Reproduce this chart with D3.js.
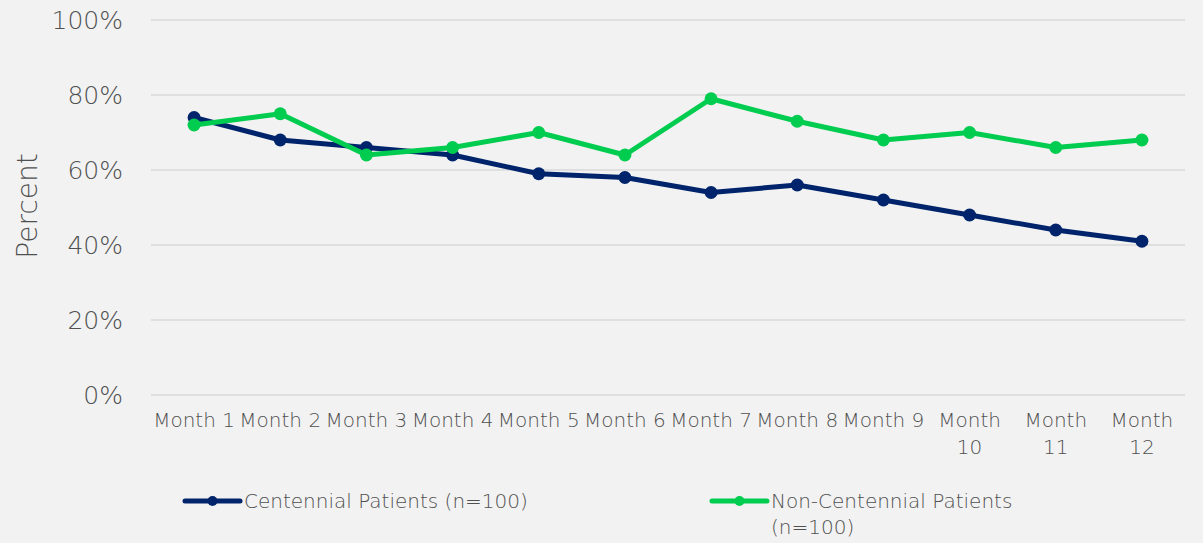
<!DOCTYPE html>
<html>
<head>
<meta charset="utf-8">
<script src="https://cdn.jsdelivr.net/npm/d3@7"></script>
<style>
  body { margin: 0; background: #f2f2f2; }
  svg { display: block; }
  text { font-family: "Century Gothic", "DejaVu Sans", sans-serif; fill: #505050; font-weight: 300; }
</style>
</head>
<body>
<svg id="chart" width="1203" height="543"></svg>
<script>
var months = ["Month 1", "Month 2", "Month 3", "Month 4", "Month 5", "Month 6",
              "Month 7", "Month 8", "Month 9", "Month 10", "Month 11", "Month 12"];
var centennial = [74, 68, 66, 64, 59, 58, 54, 56, 52, 48, 44, 41];
var nonCentennial = [72, 75, 64, 66, 70, 64, 79, 73, 68, 70, 66, 68];
var yTicks = [0, 20, 40, 60, 80, 100];
var seriesNames = ["Centennial Patients (n=100)", "Non-Centennial Patients (n=100)"];

var colors = ["#00246b", "#00cc50"];

var svg = d3.select("#chart");

var x = d3.scaleBand().domain(months).range([151, 1185]);
var y = d3.scaleLinear().domain([0, 100]).range([395, 20]);

// gridlines
svg.append("g")
  .selectAll("line")
  .data(yTicks)
  .enter().append("line")
  .attr("x1", 151)
  .attr("x2", 1185)
  .attr("y1", function(d) { return y(d); })
  .attr("y2", function(d) { return y(d); })
  .style("stroke", "#d9d9d9")
  .style("stroke-width", "1.5px");

// y labels
svg.append("g")
  .selectAll("text")
  .data(yTicks)
  .enter().append("text")
  .attr("x", 123)
  .attr("y", function(d) { return y(d); })
  .attr("dy", "0.35em")
  .attr("text-anchor", "end")
  .attr("font-size", "25px")
  .text(function(d) { return d + "%"; });

svg.append("text")
  .attr("transform", "translate(37,206) rotate(-90)")
  .attr("text-anchor", "middle")
  .attr("font-size", "28px")
  .text("Percent");

// x labels
var xl = svg.append("g")
  .selectAll("text")
  .data(months)
  .enter().append("text")
  .attr("x", function(d) { return x(d) + x.bandwidth() / 2; })
  .attr("y", 427)
  .attr("text-anchor", "middle")
  .attr("font-size", "20px");

xl.each(function(d) {
  var t = d3.select(this);
  if (d.length > 7) {
    var parts = d.split(" ");
    t.append("tspan").attr("x", x(d) + x.bandwidth() / 2).text(parts[0]);
    t.append("tspan").attr("x", x(d) + x.bandwidth() / 2).attr("dy", 27).text(parts[1]);
  } else {
    t.text(d);
  }
});

var line = d3.line()
  .x(function(d, i) { return x(months[i]) + x.bandwidth() / 2; })
  .y(function(d) { return y(d); });

[centennial, nonCentennial].forEach(function(vals, k) {
  var g = svg.append("g");
  g.append("path")
    .attr("d", line(vals))
    .style("fill", "none")
    .style("stroke", colors[k])
    .style("stroke-width", "5px")
    .style("stroke-linejoin", "round");
  g.selectAll("circle")
    .data(vals)
    .enter().append("circle")
    .attr("cx", function(d, i) { return x(months[i]) + x.bandwidth() / 2; })
    .attr("cy", function(d) { return y(d); })
    .attr("r", 6.5)
    .style("fill", colors[k]);
});

// legend
var legendX = [185, 712];
seriesNames.forEach(function(name, k) {
  var g = svg.append("g").attr("transform", "translate(" + legendX[k] + ",501)");
  g.append("line")
    .attr("x1", 0).attr("x2", 55)
    .style("stroke", colors[k])
    .style("stroke-width", "5px")
    .style("stroke-linecap", "round");
  g.append("circle").attr("cx", 27.5).attr("r", 5).style("fill", colors[k]);
  var t = g.append("text")
    .attr("x", 59)
    .attr("dy", "0.35em")
    .attr("font-size", "20px");
  if (k === 1) {
    t.append("tspan").attr("x", 59).text("Non-Centennial Patients");
    t.append("tspan").attr("x", 59).attr("dy", 26).text("(n=100)");
  } else {
    t.text(name);
  }
});
</script>
</body>
</html>
